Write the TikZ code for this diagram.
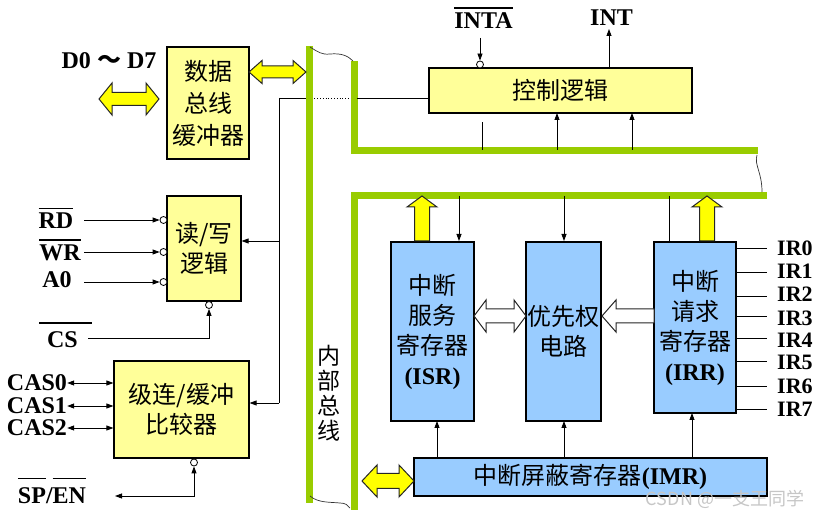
\documentclass[tikz,border=0pt]{standalone}
\usepackage{fontspec}
\setmainfont{Liberation Serif}
\newfontfamily\cj{Noto Sans CJK SC}
\usetikzlibrary{arrows.meta}
\definecolor{busgreen}{RGB}{153,204,0}
\definecolor{boxyellow}{RGB}{255,255,153}
\definecolor{boxblue}{RGB}{153,204,255}
\definecolor{arrowyellow}{RGB}{255,255,0}
\newcommand\ol[2][4pt]{\leavevmode\vbox{\hrule height 1.2pt\kern #1\hbox{#2}}}
% horizontal double block arrow: x1,x2,yc,H,s,h,fill
\newcommand\hdbl[7]{\filldraw[blk,fill=#7] (#1,#3) -- ({#1+#6},{#3-#4}) -- ({#1+#6},{#3-#5}) -- ({#2-#6},{#3-#5}) -- ({#2-#6},{#3-#4}) -- (#2,#3) -- ({#2-#6},{#3+#4}) -- ({#2-#6},{#3+#5}) -- ({#1+#6},{#3+#5}) -- ({#1+#6},{#3+#4}) -- cycle;}
% horizontal single block arrow pointing left: tipx,tailx,yc,H,s,h,fill
\newcommand\hsgl[7]{\filldraw[blk,fill=#7] (#1,#3) -- ({#1+#6},{#3-#4}) -- ({#1+#6},{#3-#5}) -- (#2,{#3-#5}) -- (#2,{#3+#5}) -- ({#1+#6},{#3+#5}) -- ({#1+#6},{#3+#4}) -- cycle;}
% vertical block arrow pointing up: xc,tipy,taily,H,s,h,fill
\newcommand\vupa[7]{\filldraw[blk,fill=#7] (#1,#2) -- ({#1+#4},{#2+#6}) -- ({#1+#5},{#2+#6}) -- ({#1+#5},#3) -- ({#1-#5},#3) -- ({#1-#5},{#2+#6}) -- ({#1-#4},{#2+#6}) -- cycle;}
\tikzset{
 ybox/.style={draw, line width=1.2pt, fill=boxyellow, inner sep=0pt, align=center, font=\fontsize{24}{32}\selectfont\cj},
 bbox/.style={draw, line width=1.2pt, fill=boxblue, inner sep=0pt, align=center, font=\fontsize{24}{30}\selectfont\cj},
 bus/.style={line width=7pt, busgreen, line cap=butt, line join=miter},
 sig/.style={line width=0.8pt, -{Triangle[length=7pt,width=5pt]}},
 sigd/.style={line width=0.8pt, {Triangle[length=7pt,width=5pt]}-{Triangle[length=7pt,width=5pt]}},
 wire/.style={line width=0.8pt},
 wavy/.style={line width=0.7pt, black!80},
 bub/.style={circle, draw, fill=white, line width=0.8pt, inner sep=0pt, minimum size=7pt},
 lab/.style={font=\fontsize{24}{24}\selectfont\bfseries, inner sep=0pt},
 irlab/.style={font=\fontsize{22}{22}\selectfont\bfseries, inner sep=0pt, anchor=west, text height=15pt, text depth=0pt},
 blk/.style={draw=black!85, line width=1pt, line join=miter},
}
\begin{document}
\begin{tikzpicture}[x=1pt,y=-1pt]
\useasboundingbox (0,0) rectangle (825,518);

% ---- wires under the bus ----
\coordinate (j1) at (279,98);
\coordinate (j2) at (279,403);
\coordinate (rwin) at (279,241);
\draw[wire] (j1) -- (306,98);
\draw[wire, dotted] (306,98) -- (357,98);

% ---- internal bus ----
\draw[bus] (309.5,46) -- (309.5,503);
\draw[bus] (354,61) -- (354,151) -- (758,151);
\draw[bus] (767,196) -- (354,196) -- (354,510);
\draw[wavy] (310,47) .. controls (318,52) and (322,55) .. (330,54) .. controls (342,53) and (348,56) .. (353,61);
\draw[wavy] (757,155) .. controls (754,165) and (762,172) .. (762,192);
\draw[wavy] (310,496) .. controls (318,503) and (330,502) .. (340,503) .. controls (345,503) and (348,505) .. (350,508);
\node[font=\fontsize{23}{25}\selectfont\cj, align=center, inner sep=0pt] (ib) at (329,393) {内\\部\\总\\线};

% ---- boxes ----
\node[ybox, minimum width=82, minimum height=112] (dbb) at (208,103) {数据\\总线\\缓冲器};
\node[ybox, minimum width=74, minimum height=105, font=\fontsize{24}{30}\selectfont\cj] (rw) at (204,248.5) {读/写\\逻辑};
\node[ybox, minimum width=135, minimum height=97, font=\fontsize{24}{30}\selectfont\cj] (cas) at (181.5,409.5) {级连/缓冲\\比较器};
\node[ybox, minimum width=263, minimum height=45] (ctl) at (560.5,90.5) {控制逻辑};
\node[bbox, minimum width=83, minimum height=179] (isr) at (432.5,331.5) {中断\\服务\\寄存器\\{\rmfamily\bfseries (ISR)}};
\node[bbox, minimum width=75, minimum height=179] (pr) at (563.5,331.5) {优先权\\电路};
\node[bbox, minimum width=82, minimum height=171] (irr) at (695,327.5) {中断\\请求\\寄存器\\{\rmfamily\bfseries (IRR)}};
\node[bbox, minimum width=353, minimum height=38] (imr) at (590.5,477) {中断屏蔽寄存器{\rmfamily\bfseries (IMR)}};

% ---- connections to bus ----
\draw[wire] (357,98) -- (j1 -| ctl.west);
\draw[wire] (j1) -- (j2);
\draw[sig] (rwin) -- (rwin -| rw.east);
\draw[sig] (j2) -- (j2 -| cas.east);

% ---- data bus ----
\node[lab] (d07) at (109,61) {D0 {\cj ～} D7};
\hdbl{99}{159}{99}{16}{6.5}{13}{arrowyellow}
\hdbl{249}{306}{72}{11.5}{6}{13}{arrowyellow}

% ---- read/write ----
\node[lab] (rd) at (56,218) {\ol{RD}};
\node[lab] (wr) at (60,250) {\ol{WR}};
\node[lab] (a0) at (57,280) {A0};
\node[bub] (brd) at (163.5,220) {};
\node[bub] (bwr) at (163.5,252) {};
\node[bub] (ba0) at (163.5,282) {};
\draw[sig] (84,220) -- (brd.west);
\draw[sig] (84,252) -- (bwr.west);
\draw[sig] (84,282) -- (ba0.west);
\node[lab] (cs) at (62.5,340) {CS};
\draw[line width=1.2pt] (39,323) -- (92,323);
\node[bub] (bcs) at (209,305) {};
\draw[sig] (88,338) -- (bcs.south |- 0,338) -- (bcs.south);

% ---- cascade ----
\node[lab] (c0) at (37,383) {CAS0};
\node[lab] (c1) at (37,406) {CAS1};
\node[lab] (c2) at (37,428) {CAS2};
\draw[sigd] (c0.east) -- (c0.east -| cas.west);
\draw[sigd] (c1.east) -- (c1.east -| cas.west);
\draw[sigd] (c2.east) -- (c2.east -| cas.west);
\node[bub] (bsp) at (194,462.5) {};
\node[lab] (sp) at (52,491) {\ol[9pt]{SP}/\ol[9pt]{EN}};
\coordinate (spl) at (115,496);
\draw[sigd] (spl) -- (bsp.south |- spl) -- (bsp.south);

% ---- control logic ----
\node[lab] (inta) at (483.5,18) {\ol{INTA}};
\node[lab] (int) at (611.5,18) {INT};
\node[bub] (binta) at (480,64.5) {};
\draw[sig] (480,38) -- (binta.north);
\draw[sig] (609,68) -- (609,29);
\draw[wire] (482,150) -- (482,122);
\draw[sig] (557,150) -- (557,113);
\draw[sig] (632,150) -- (632,113);

% ---- lower bus ----
\draw[sig] (459,196) -- (459,241);
\draw[sig] (564,196) -- (564,241);
\draw[wire] (669,196) -- (669,241.5);
\vupa{422}{196}{241}{15}{7.5}{11}{arrowyellow}
\vupa{707}{196}{241}{15}{7.5}{11}{arrowyellow}

% ---- IMR ----
\draw[sig] (437,458) -- (437,421);
\draw[sig] (564,458) -- (564,421);
\draw[sig] (692,458) -- (692,413);
\hdbl{362}{414}{481}{16}{7.5}{15}{arrowyellow}

% ---- priority arrows ----
\hdbl{474}{526}{316}{16}{7}{12}{white}
\hsgl{602}{654}{316}{16}{7}{14}{white}

% ---- IR lines ----
\foreach \y/\ly/\t in {248/248/0,272/271/1,296/294/2,316/318/3,338/340/4,361/362/5,386/386/6,409/409/7}{
  \draw[wire] (736,\y) -- (767,\y);
  \node[irlab] (ir\t) at (777,\ly) {IR\t};
}

\node[text=gray!45, font=\fontsize{18}{18}\selectfont\cj, inner sep=0pt] (wm) at (725,499) {CSDN @一支王同学};
\end{tikzpicture}
\end{document}
